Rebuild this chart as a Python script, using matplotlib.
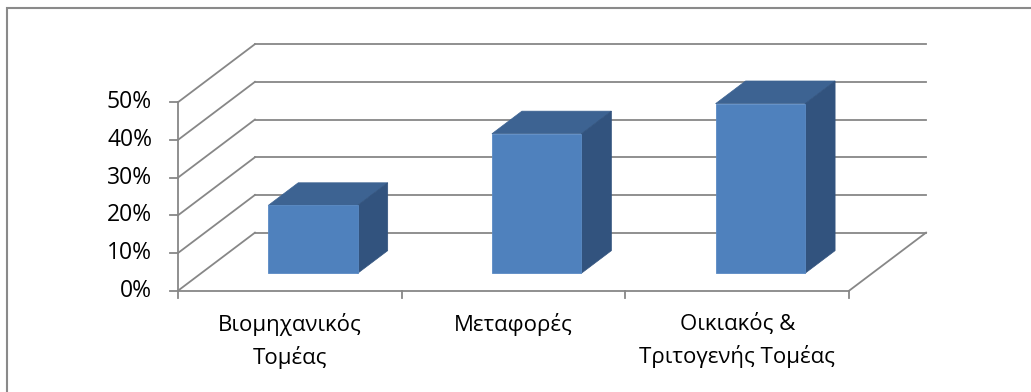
import matplotlib
matplotlib.use("Agg")
import matplotlib.pyplot as plt
from matplotlib.patches import Polygon, Rectangle

plt.rcParams["font.family"] = ["Open Sans", "DejaVu Sans"]

# 3D-style bar chart: share of consumption per sector
categories = ["Βιομηχανικός\nΤομέας", "Μεταφορές", "Οικιακός &\nΤριτογενής Τομέας"]
values = [0.18, 0.37, 0.45]
y_ticks = [0.0, 0.1, 0.2, 0.3, 0.4, 0.5]
y_tick_labels = ["0%", "10%", "20%", "30%", "40%", "50%"]

FRONT = "#4f81bd"
TOP = "#3d6392"
SIDE = "#32537e"
GRID = "#878787"

# oblique projection: full depth shifts a point right and up
DEPTH_X = 0.344   # in category units
DEPTH_Y = 0.154   # in value units
BAR_W = 0.40
BAR_D0, BAR_D1 = 0.30, 0.69

# pixel scale of the front plane
PX_PER_CAT = 223.7
PX_PER_VAL = 377.0
X0_PX, Y0_PX = 178.0, 290.7
W_PX, H_PX = 1031, 392


def proj(x, y, d):
    return (x + d * DEPTH_X, y + d * DEPTH_Y)


fig = plt.figure(figsize=(W_PX / 100, H_PX / 100), dpi=100)
ax = fig.add_axes([0, 0, 1, 1])
ax.set_xlim(-X0_PX / PX_PER_CAT, (W_PX - X0_PX) / PX_PER_CAT)
ax.set_ylim((Y0_PX - H_PX) / PX_PER_VAL, Y0_PX / PX_PER_VAL)
ax.axis("off")

n = len(categories)
ymax = y_ticks[-1]
lw = 1.3

# back wall and side wall gridlines
for t in y_ticks:
    bx0, by = proj(0, t, 1)
    bx1, _ = proj(n, t, 1)
    ax.plot([bx0, bx1], [by, by], color=GRID, lw=lw, zorder=1)
    ax.plot([0, bx0], [t, by], color=GRID, lw=lw, zorder=1)

# floor right edge and front axis
fx, fy = proj(n, 0, 1)
ax.plot([n, fx], [0, fy], color=GRID, lw=lw, zorder=1)
ax.plot([0, n], [0, 0], color=GRID, lw=lw, zorder=2)
ax.plot([0, 0], [0, ymax], color=GRID, lw=lw, zorder=2)

tick_x = 8 / PX_PER_CAT
tick_y = 7 / PX_PER_VAL
for t, lab in zip(y_ticks, y_tick_labels):
    ax.plot([-tick_x, 0], [t, t], color=GRID, lw=lw, zorder=2)
    ax.text(-26 / PX_PER_CAT, t, lab, ha="right", va="center",
            fontsize=16.5, color="black")
for i in range(n + 1):
    ax.plot([i, i], [0, -tick_y], color=GRID, lw=lw, zorder=2)

# bars: top, side, front
for i, v in enumerate(values):
    xl = i + 0.5 - BAR_W / 2
    xr = i + 0.5 + BAR_W / 2
    front = [proj(xl, 0, BAR_D0), proj(xr, 0, BAR_D0),
             proj(xr, v, BAR_D0), proj(xl, v, BAR_D0)]
    top = [proj(xl, v, BAR_D0), proj(xr, v, BAR_D0),
           proj(xr, v, BAR_D1), proj(xl, v, BAR_D1)]
    side = [proj(xr, 0, BAR_D0), proj(xr, 0, BAR_D1),
            proj(xr, v, BAR_D1), proj(xr, v, BAR_D0)]
    ax.add_patch(Polygon(top, closed=True, fc=TOP, ec=TOP, lw=0.5, zorder=3))
    ax.add_patch(Polygon(side, closed=True, fc=SIDE, ec=SIDE, lw=0.5, zorder=3))
    ax.add_patch(Polygon(front, closed=True, fc=FRONT, ec="#5a8ac4", lw=0.6, zorder=4))

for i, lab in enumerate(categories):
    ax.text(i + 0.5, -22 / PX_PER_VAL, lab, ha="center", va="top",
            fontsize=16, color="black", linespacing=1.55)

# chart area border
fig.add_artist(Rectangle((7 / W_PX, -0.1), 1.2, (H_PX - 8) / H_PX + 0.1,
                         transform=fig.transFigure, fill=False,
                         ec="#8a8a8a", lw=1.5))

fig.savefig("out.png", dpi=100)
